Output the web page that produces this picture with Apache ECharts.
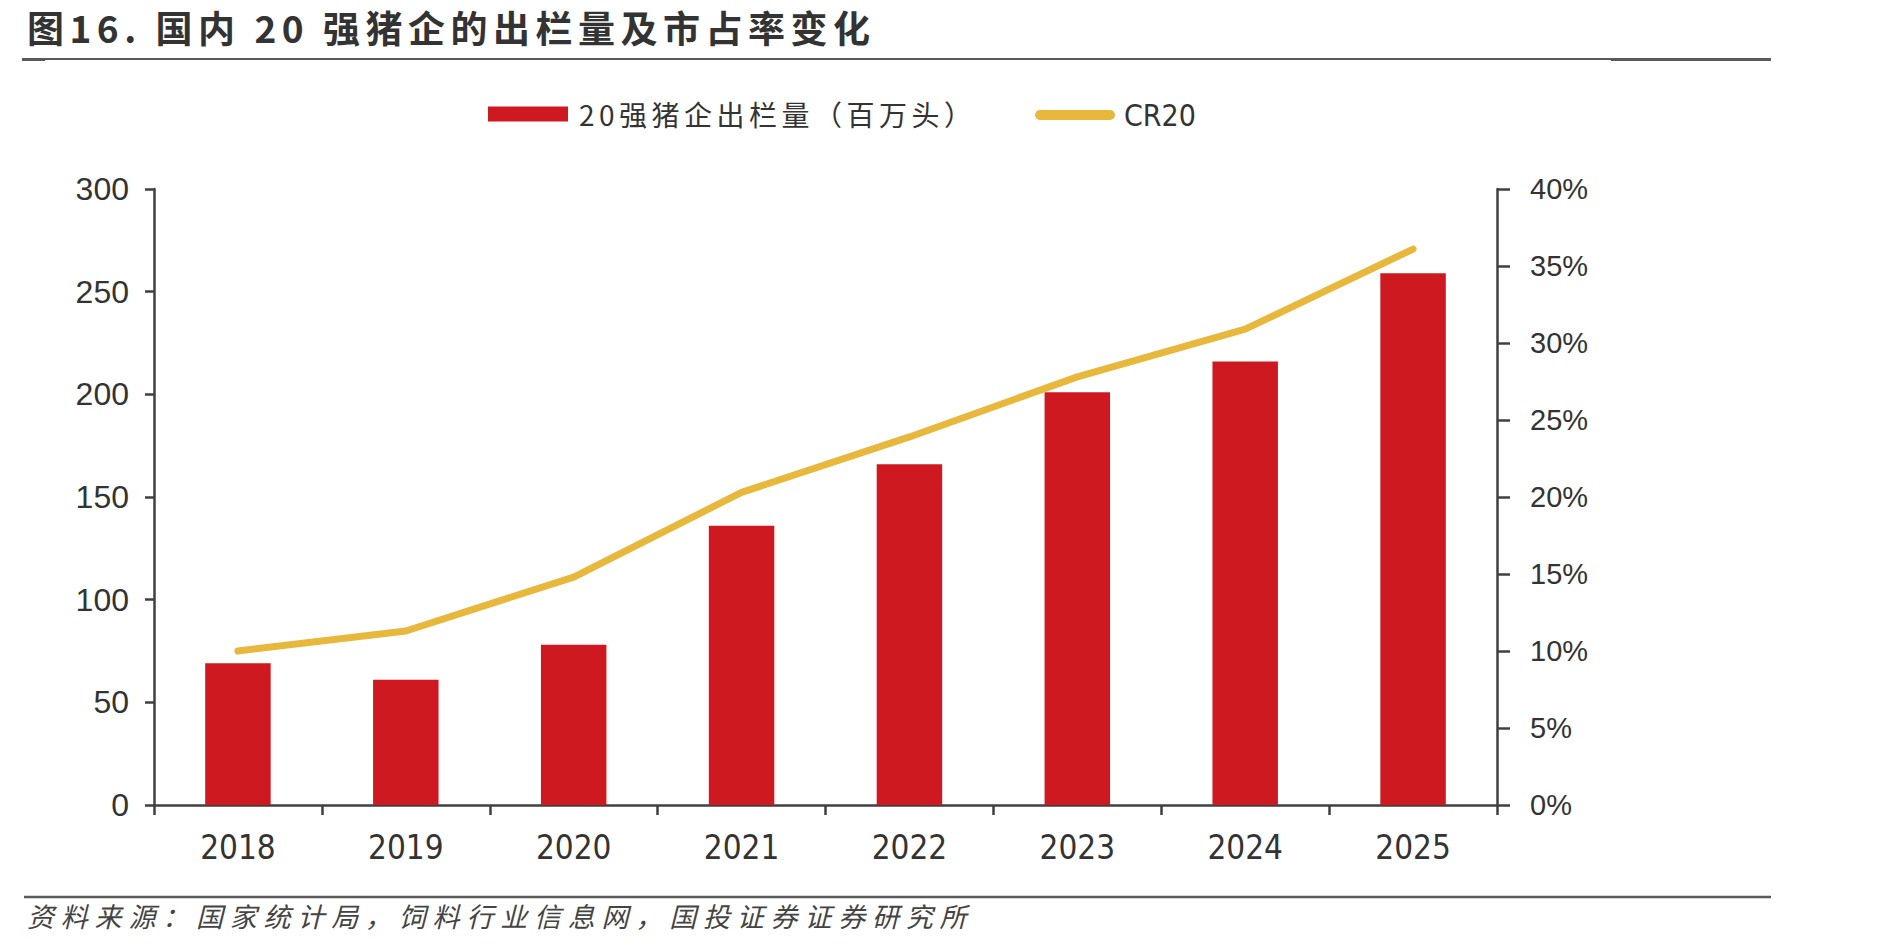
<!DOCTYPE html>
<html>
<head>
<meta charset="utf-8">
<script src="https://cdn.jsdelivr.net/npm/echarts@6/dist/echarts.min.js"></script>
<style>
html,body{margin:0;padding:0;background:#fff;}
#chart{width:1889px;height:947px;}
</style>
</head>
<body>
<div id="chart"></div>
<script>
const titleText = '图16. 国内 20 强猪企的出栏量及市占率变化';
const footerText = '资料来源：国家统计局，饲料行业信息网，国投证券证券研究所';
const categories = ['2018', '2019', '2020', '2021', '2022', '2023', '2024', '2025'];
const barName = '20强猪企出栏量（百万头）';
const lineName = 'CR20';
const outputValues = [69, 61, 78, 136, 166, 201, 216, 259];
const cr20Values = [10.0, 11.3, 14.8, 20.3, 23.9, 27.8, 30.9, 36.1];
const leftAxisRange = [0, 300, 50];
const rightAxisRange = [0, 40, 5];

const axisColor = '#404040';
const textColor = '#333333';
const cjk = '"Noto Sans CJK SC", "Noto Sans", sans-serif';
const num = '"Liberation Sans", Arial, sans-serif';
const narrow = '"Liberation Sans Narrow", "DejaVu Sans Condensed", "Liberation Sans", sans-serif';

const chart = echarts.init(document.getElementById('chart'), null, {renderer: 'svg'});
const option = {
  animation: false,
  backgroundColor: '#fff',
  title: [
    {text: titleText, left: 22, top: 3,
     textStyle: {fontFamily: cjk, fontSize: 37, fontWeight: 'bold', color: '#333'}},
    {text: footerText, left: 22, top: 897,
     textStyle: {fontFamily: cjk, fontSize: 27, fontWeight: 'normal', fontStyle: 'italic', color: '#444'}}
  ],
  legend: [
    {data: [barName], left: 483, top: 95, itemWidth: 80, itemHeight: 15, icon: 'rect',
     textStyle: {fontFamily: cjk, fontSize: 28, color: textColor, padding: [0, 0, 0, 6]}},
    {data: [lineName], left: 1030, top: 95, itemWidth: 80, itemHeight: 10,
     icon: 'path://M5,0 H75 A5,5 0 0 1 75,10 H5 A5,5 0 0 1 5,0 Z',
     textStyle: {fontFamily: narrow, fontSize: 30, color: textColor, padding: [0, 0, 0, 4]}}
  ],
  grid: {left: 154, right: 392, top: 189, bottom: 142, containLabel: false},
  xAxis: {
    type: 'category', data: categories, boundaryGap: true,
    axisLine: {lineStyle: {color: axisColor, width: 2.5}},
    axisTick: {show: true, length: 10, lineStyle: {color: axisColor, width: 2.5}},
    axisLabel: {fontFamily: narrow, fontSize: 33, color: textColor, margin: 26}
  },
  yAxis: [
    {type: 'value', min: leftAxisRange[0], max: leftAxisRange[1], interval: leftAxisRange[2],
     axisLine: {show: true, lineStyle: {color: axisColor, width: 2.5}},
     axisTick: {show: true, length: 9, lineStyle: {color: axisColor, width: 2.5}},
     splitLine: {show: false},
     axisLabel: {fontFamily: num, fontSize: 32, color: textColor, margin: 25}},
    {type: 'value', position: 'right', min: rightAxisRange[0], max: rightAxisRange[1], interval: rightAxisRange[2],
     axisLine: {show: true, lineStyle: {color: axisColor, width: 2.5}},
     axisTick: {show: true, length: 13, lineStyle: {color: axisColor, width: 2.5}},
     splitLine: {show: false},
     axisLabel: {fontFamily: num, fontSize: 29, color: textColor, margin: 33, formatter: '{value}%'}}
  ],
  series: [
    {name: barName, type: 'bar', data: outputValues, barWidth: '39%', yAxisIndex: 0,
     itemStyle: {color: '#CF1920'}},
    {name: lineName, type: 'line', data: cr20Values, yAxisIndex: 1, symbol: 'none',
     lineStyle: {color: '#E8B83C', width: 7, cap: 'round', join: 'round'},
     itemStyle: {color: '#E8B83C'}}
  ],
  graphic: [
    {type: 'line', shape: {x1: 24, y1: 59, x2: 1771, y2: 59}, style: {stroke: '#5a5a5a', lineWidth: 2}},
    {type: 'line', shape: {x1: 22, y1: 59.5, x2: 45, y2: 59.5}, style: {stroke: '#5a5a5a', lineWidth: 3}},
    {type: 'line', shape: {x1: 1611, y1: 59.5, x2: 1771, y2: 59.5}, style: {stroke: '#5a5a5a', lineWidth: 3}},
    {type: 'line', shape: {x1: 24, y1: 897, x2: 1771, y2: 897}, style: {stroke: '#5a5a5a', lineWidth: 2.5}}
  ]
};
chart.setOption(option);

function applySpacing() {
  const spacing = {};
  spacing[titleText] = '5.5px';
  spacing[barName] = '4.5px';
  spacing[footerText] = '6.8px';
  document.querySelectorAll('#chart svg text').forEach(function (t) {
    const s = spacing[t.textContent];
    if (s) t.style.letterSpacing = s;
  });
}
applySpacing();
chart.on('finished', applySpacing);
</script>
</body>
</html>
